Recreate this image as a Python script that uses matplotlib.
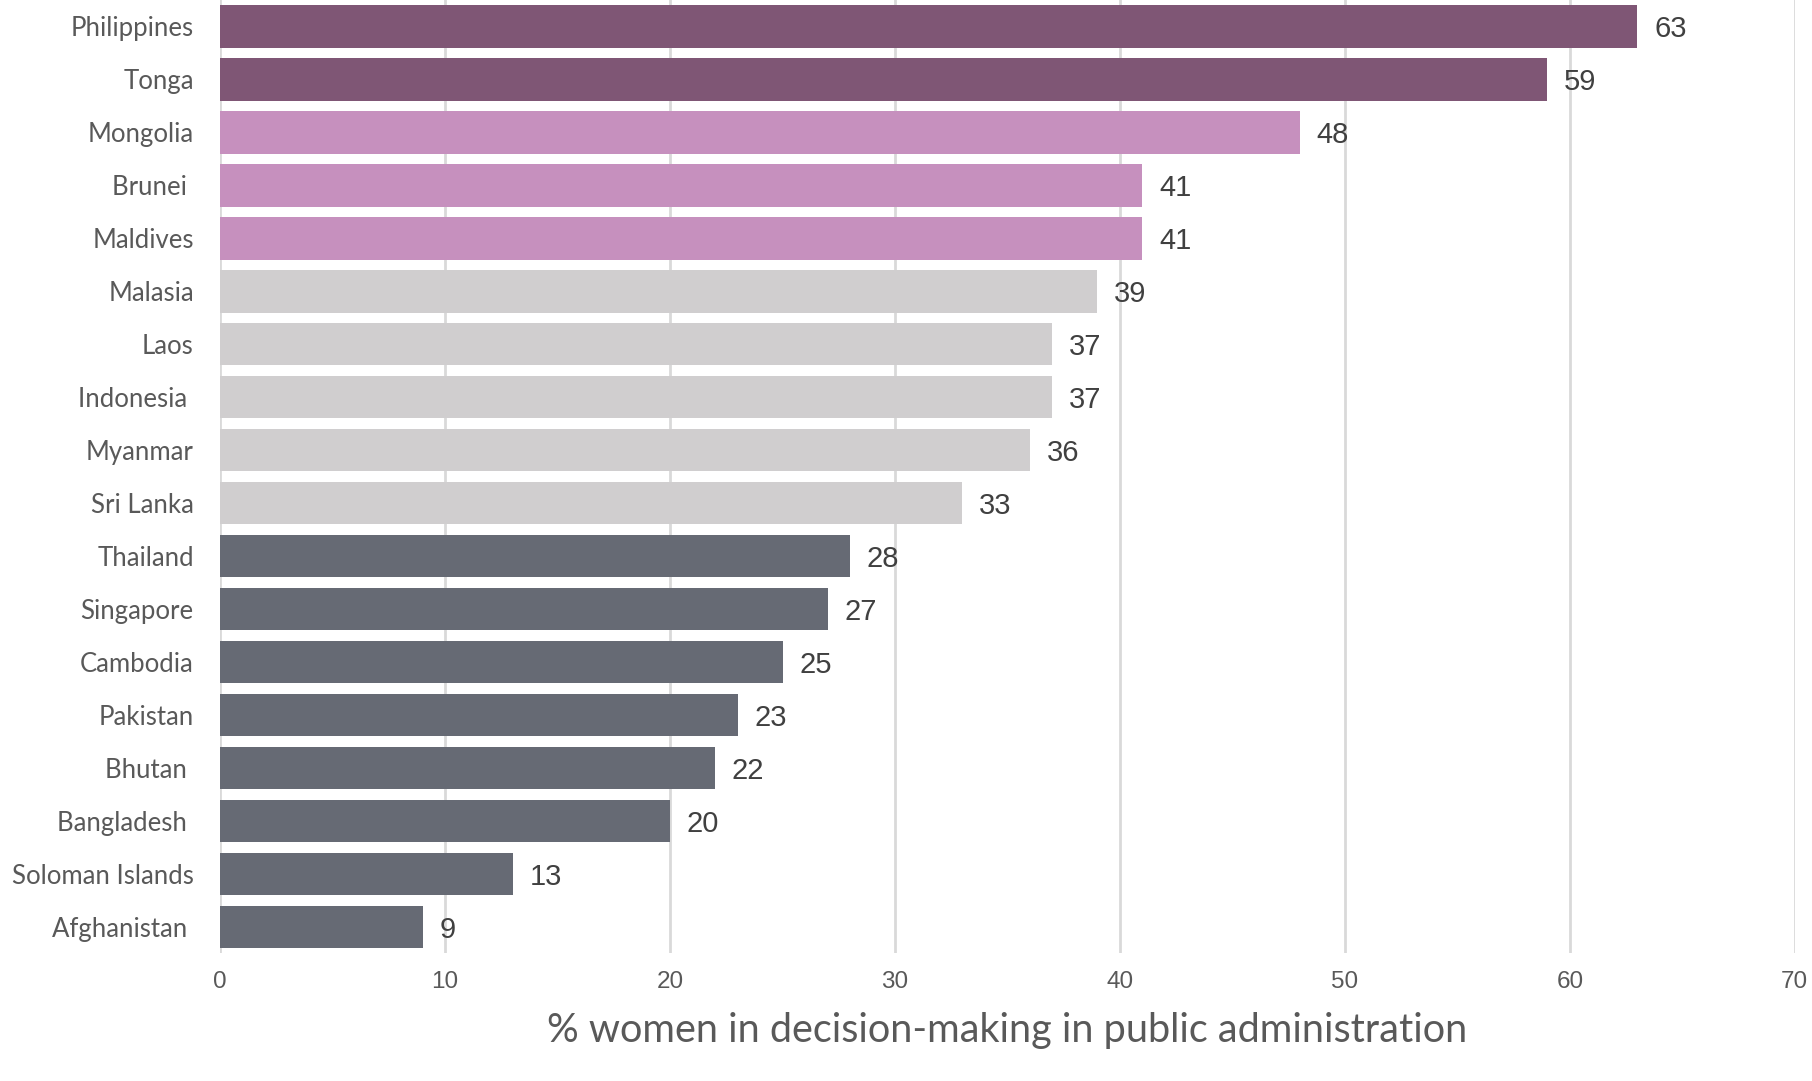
import matplotlib.pyplot as plt

countries = ["Philippines", "Tonga", "Mongolia", "Brunei ", "Maldives", "Malasia", "Laos",
             "Indonesia ", "Myanmar", "Sri Lanka", "Thailand", "Singapore", "Cambodia",
             "Pakistan", "Bhutan ", "Bangladesh ", "Soloman Islands", "Afghanistan "]
values = [63, 59, 48, 41, 41, 39, 37, 37, 36, 33, 28, 27, 25, 23, 22, 20, 13, 9]
groups = [0, 0, 1, 1, 1, 2, 2, 2, 2, 2, 3, 3, 3, 3, 3, 3, 3, 3]
group_colors = ["#7f5675", "#c690be", "#d0cecf", "#666a74"]
xticks = [0, 10, 20, 30, 40, 50, 60, 70]

plt.rcParams['font.family'] = ['Lato', 'DejaVu Sans']

fig = plt.figure(figsize=(18.12, 10.81), dpi=100)
ax = fig.add_axes([0.1215, 0.118, 0.869, 0.882])

ypos = list(range(len(countries)))
bar_colors = [group_colors[g] for g in groups]
ax.barh(ypos, values, height=0.8, color=bar_colors, zorder=3)

for y, v in zip(ypos, values):
    ax.text(v + 0.75, y, str(v), va="center_baseline", ha="left", fontsize=21,
            color="#404040", family=['Liberation Sans', 'DejaVu Sans'], zorder=4)

ax.set_xlim(0, 70)
ax.set_ylim(len(countries) - 0.5, -0.5)
ax.set_xticks(xticks)
ax.set_xticklabels([str(t) for t in xticks], fontsize=17.5, color="#595959",
                   family=['Liberation Sans Narrow', 'Liberation Sans'])
ax.set_yticks(ypos)
ax.set_yticklabels(countries, fontsize=18.5, color="#595959")
ax.tick_params(axis="both", length=0)
ax.tick_params(axis="y", pad=19)
ax.tick_params(axis="x", pad=13)

ax.grid(axis="x", color="#d9d9d9", linewidth=2, zorder=0)
for s in ax.spines.values():
    s.set_visible(False)

ax.set_xlabel("% women in decision-making in public administration", fontsize=28.5,
              color="#595959", labelpad=13)

fig.savefig("out.png", dpi=100)
